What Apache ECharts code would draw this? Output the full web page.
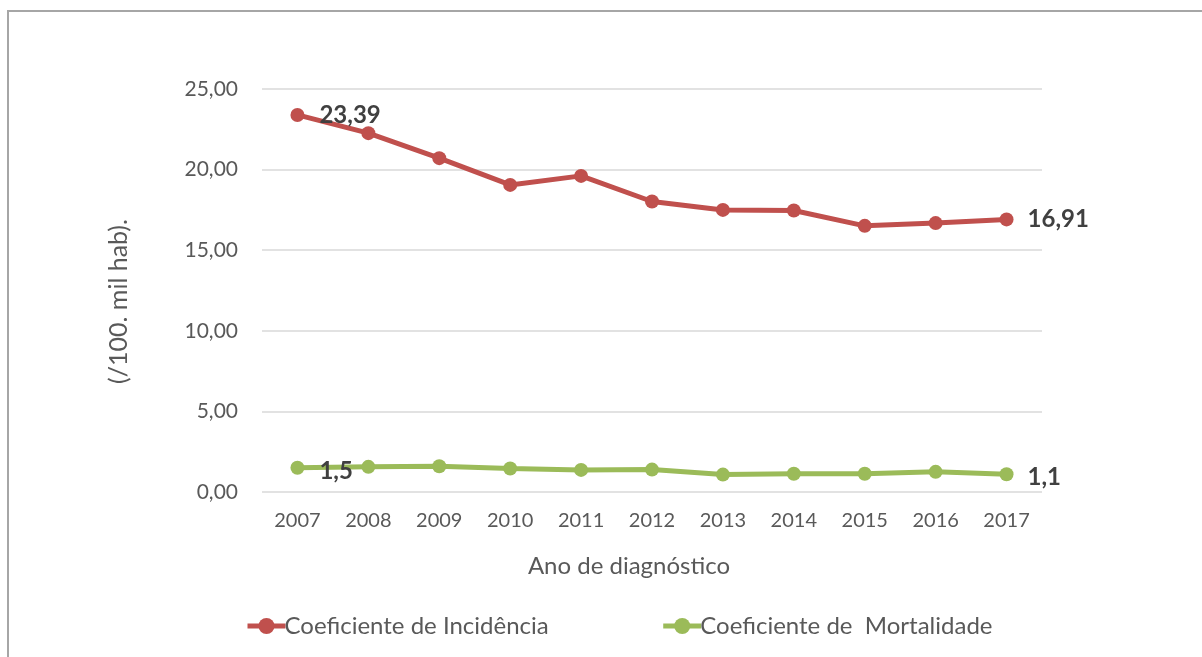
<!DOCTYPE html>
<html>
<head>
<meta charset="utf-8">
<script src="https://cdn.jsdelivr.net/npm/echarts@6/dist/echarts.min.js"></script>
<style>
  html, body { margin: 0; padding: 0; background: #fff; overflow: hidden; }
  #chart { width: 1202px; height: 657px; }
</style>
</head>
<body>
<div id="chart"></div>
<script>
var anos = ['2007', '2008', '2009', '2010', '2011', '2012', '2013', '2014', '2015', '2016', '2017'];
var incidencia = [23.39, 22.26, 20.71, 19.05, 19.61, 18.02, 17.50, 17.46, 16.51, 16.68, 16.91];
var mortalidade = [1.5, 1.56, 1.6, 1.46, 1.37, 1.39, 1.08, 1.13, 1.13, 1.25, 1.1];
var nomes = ['Coeficiente de Incidência', 'Coeficiente de  Mortalidade'];

var fonte = 'Lato, "Open Sans", sans-serif';

function virgula(v) {
  return String(v).replace('.', ',');
}

// só o primeiro e o último ponto levam rótulo
function pontas(valores, dy) {
  return valores.map(function (v, i) {
    if (i === 0 || i === valores.length - 1) {
      return {
        value: v,
        label: {
          show: true,
          position: 'right',
          distance: i === 0 ? 15 : 14,
          offset: [0, dy],
          formatter: function (p) { return virgula(p.value); },
          color: '#404040',
          fontSize: 24,
          fontWeight: 'bold',
          fontFamily: fonte
        }
      };
    }
    return v;
  });
}

var chart = echarts.init(document.getElementById('chart'));
chart.setOption({
  backgroundColor: '#fff',
  animation: false,
  graphic: [{
    type: 'rect',
    shape: { x: 8, y: 11, width: 1400, height: 900 },
    style: { fill: 'none', stroke: '#a6a6a6', lineWidth: 2 },
    silent: true
  }],
  grid: { left: 262, right: 160, top: 89, bottom: 165 },
  legend: {
    bottom: 14,
    left: 240,
    itemWidth: 38,
    itemHeight: 20,
    itemGap: 112,
    lineStyle: { width: 5 },
    textStyle: { color: '#595959', fontSize: 24, fontFamily: fonte, padding: [0, 0, 0, -6] },
    data: nomes
  },
  xAxis: {
    type: 'category',
    data: anos,
    boundaryGap: true,
    name: 'Ano de diagnóstico',
    nameLocation: 'middle',
    nameGap: 62,
    nameTextStyle: { color: '#595959', fontSize: 24, fontFamily: fonte, padding: [0, 46, 0, 0] },
    axisLine: { show: false },
    axisTick: { show: false },
    axisLabel: { color: '#595959', fontSize: 20, fontFamily: fonte, margin: 19 }
  },
  yAxis: {
    type: 'value',
    min: 0,
    max: 25,
    interval: 5,
    name: '(/100. mil hab).',
    nameLocation: 'middle',
    nameGap: 131,
    nameTextStyle: { color: '#595959', fontSize: 25, fontFamily: fonte, padding: [0, 22, 0, 0] },
    axisLine: { show: false },
    axisTick: { show: false },
    splitLine: { lineStyle: { color: '#d9d9d9', width: 1.5 } },
    axisLabel: {
      color: '#595959',
      fontSize: 21,
      fontFamily: fonte,
      margin: 24,
      formatter: function (v) { return v.toFixed(2).replace('.', ','); }
    }
  },
  series: [
    {
      name: nomes[0],
      type: 'line',
      data: pontas(incidencia, 0),
      symbol: 'circle',
      symbolSize: 14,
      color: '#c0504d',
      lineStyle: { width: 5, color: '#c0504d' },
      itemStyle: { color: '#c0504d' }
    },
    {
      name: nomes[1],
      type: 'line',
      data: pontas(mortalidade, 3),
      symbol: 'circle',
      symbolSize: 14,
      color: '#9bbb59',
      lineStyle: { width: 5, color: '#9bbb59' },
      itemStyle: { color: '#9bbb59' }
    }
  ]
});
</script>
</body>
</html>
